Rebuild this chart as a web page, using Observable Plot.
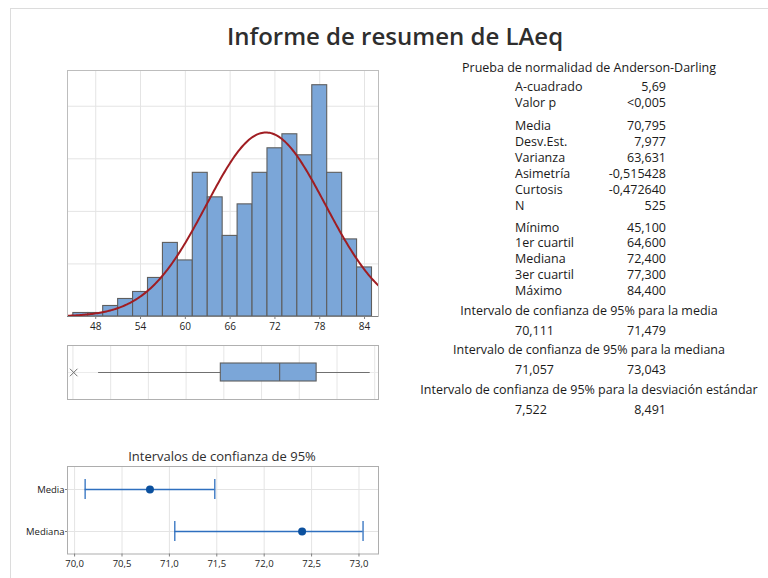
<!DOCTYPE html>
<html><head><meta charset="utf-8">
<script src="https://cdn.jsdelivr.net/npm/d3@7"></script>
<script src="https://cdn.jsdelivr.net/npm/@observablehq/plot@0.6"></script>
<style>
html,body{margin:0;padding:0;background:#fff;}
#page{position:relative;width:768px;height:578px;overflow:hidden;font-family:"Open Sans",sans-serif;color:#1a1a1a;}
.t{position:absolute;white-space:nowrap;line-height:1;}
</style></head><body><div id="page"></div>
<script>
// ---------- data ----------
const reportTitle = "Informe de resumen de LAeq";
const binStart = [45,47,49,51,53,55,57,59,61,63,65,67,69,71,73,75,77,79,81,83];
const binWidth = 2;
const counts = [1,1,3,5,7,11,21,16,41,34,23,32,41,48,52,46,66,41,22,14];
const histTicks = [48,54,60,66,72,78,84];
const histGridY = [15,30,45,60];
const meanVal = 70.795, sdVal = 7.977, nVal = 525;

const boxGrid = [45,50,55,60,65,70,75,80,85];
const boxQ = [64.6, 72.4, 77.3];        // Q1, median, Q3
const whiskers = [48.4, 84.4];          // lower / upper whisker ends
const outliers = [45.1];

const ciNames = ["Media","Mediana"];
const ciLow = [70.111, 71.057];
const ciHigh = [71.479, 73.043];
const ciEst = [70.795, 72.4];
const ciTicks = [70,70.5,71,71.5,72,72.5,73];
const ciTitle = "Intervalos de confianza de 95%";

const adHeader = "Prueba de normalidad de Anderson-Darling";
const adLabels = ["A-cuadrado","Valor p"];
const adValues = ["5,69","<0,005"];
const descLabels = ["Media","Desv.Est.","Varianza","Asimetría","Curtosis","N"];
const descValues = ["70,795","7,977","63,631","-0,515428","-0,472640","525"];
const quantLabels = ["Mínimo","1er cuartil","Mediana","3er cuartil","Máximo"];
const quantValues = ["45,100","64,600","72,400","77,300","84,400"];
const intHeaders = ["Intervalo de confianza de 95% para la media","Intervalo de confianza de 95% para la mediana","Intervalo de confianza de 95% para la desviación estándar"];
const intLow = ["70,111","71,057","7,522"];
const intHigh = ["71,479","73,043","8,491"];

// ---------- layout helpers ----------
const page = document.getElementById("page");
const FONT = '"Open Sans", sans-serif';
function place(el, left, top){ el.style.position="absolute"; el.style.left=left+"px"; el.style.top=top+"px"; page.appendChild(el); }
function text(str, x, yc, align, size, color, weight){
  const d = document.createElement("div");
  d.className = "t"; d.textContent = str;
  d.style.fontSize = size+"px"; d.style.color = color || "#1a1a1a";
  if (weight) d.style.fontWeight = weight;
  d.style.top = yc+"px";
  let tx = "0";
  if (align === "left") d.style.left = x+"px";
  else if (align === "right") d.style.right = (768-x)+"px";
  else { d.style.left = x+"px"; tx = "-50%"; }
  d.style.transform = `translate(${tx},-50%)`;
  page.appendChild(d);
}
// page border
const border = document.createElement("div");
border.style.cssText = "position:absolute;left:10px;top:8px;width:800px;height:700px;border-top:1px solid #dcdcdc;border-left:1px solid #dcdcdc;";
page.appendChild(border);

text(reportTitle, 395, 36, "center", 24, "#2e2e2e", 600);

// ---------- histogram ----------
const histDomain = [44.22, 85.87];
const histData = binStart.map((x0,i)=>({x0, x1:x0+binWidth, count:counts[i]}));
const curvePts = d3.range(0,241).map(i=>{
  const x = histDomain[0] + (histDomain[1]-histDomain[0])*i/240;
  return {x, y: nVal*binWidth*Math.exp(-0.5*((x-meanVal)/sdVal)**2)/(sdVal*Math.sqrt(2*Math.PI))};
});
const hist = Plot.plot({
  width:400, height:280, marginLeft:67, marginRight:22, marginTop:10, marginBottom:24,
  style:{fontFamily:FONT, fontSize:"10px", color:"#333", background:"transparent"},
  x:{domain:histDomain}, y:{domain:[0,70.2], axis:null},
  marks:[
    Plot.gridX(histTicks, {stroke:"#e4e4e4", strokeOpacity:1}),
    Plot.gridY(histGridY, {stroke:"#e4e4e4", strokeOpacity:1}),
    Plot.rectY(histData, {x1:"x0", x2:"x1", y:"count", fill:"#7ba6d8", stroke:"#5e5e5e", strokeWidth:1.1, inset:0}),
    Plot.line(curvePts, {x:"x", y:"y", stroke:"#a01d22", strokeWidth:2, clip:true}),
    Plot.frame({stroke:"#bdbdbd"}),
    Plot.ruleY([0], {stroke:"#808080"}),
    Plot.axisX(histTicks, {tickSize:3, tickPadding:3, stroke:"#808080", fill:"#222", fontSize:10, label:null})
  ]
});
place(hist, 0, 60);

// ---------- boxplot ----------
const boxPlot = Plot.plot({
  width:400, height:64, marginLeft:67, marginRight:22, marginTop:5, marginBottom:5,
  style:{fontFamily:FONT, background:"transparent"},
  x:{domain:[44.28,85.5], axis:null}, y:{domain:[0,3], axis:null},
  marks:[
    Plot.gridX(boxGrid, {stroke:"#e6e6e6", strokeOpacity:1}),
    Plot.ruleY([1.5], {stroke:"#ececec"}),
    Plot.ruleY([1.5], {x1:whiskers[0], x2:whiskers[1], stroke:"#707070", strokeWidth:1.1}),
    Plot.rect([boxQ], {x1:d=>d[0], x2:d=>d[2], y1:1, y2:2, fill:"#7ba6d8", stroke:"#5e5e5e", strokeWidth:1.1}),
    Plot.ruleX([boxQ[1]], {y1:1, y2:2, stroke:"#5e5e5e", strokeWidth:1.1}),
    Plot.dot(outliers, {x:d=>d, y:1.5, symbol:"times", r:3.5, stroke:"#707070", strokeWidth:1}),
    Plot.frame({stroke:"#b0b0b0"})
  ]
});
place(boxPlot, 0, 340);

// ---------- confidence intervals ----------
text(ciTitle, 222, 456, "center", 13, "#2e2e2e", 500);
const ciData = ciNames.map((name,i)=>({name, lo:ciLow[i], hi:ciHigh[i], est:ciEst[i]}));
const ciPlot = Plot.plot({
  width:400, height:116, marginLeft:67, marginRight:22, marginTop:6, marginBottom:22.5,
  style:{fontFamily:FONT, fontSize:"9.5px", color:"#1a1a1a", background:"transparent"},
  x:{domain:[69.925,73.206]},
  y:{domain:ciNames, paddingInner:0.528, paddingOuter:0.293},
  marks:[
    Plot.gridX(ciTicks, {stroke:"#e4e4e4", strokeOpacity:1}),
    Plot.gridY(ciNames, {stroke:"#e4e4e4", strokeOpacity:1}),
    Plot.ruleY(ciData, {y:"name", x1:"lo", x2:"hi", stroke:"#2e6fbf", strokeWidth:1.3}),
    Plot.tickX(ciData, {x:"lo", y:"name", stroke:"#2e6fbf", strokeWidth:1.3}),
    Plot.tickX(ciData, {x:"hi", y:"name", stroke:"#2e6fbf", strokeWidth:1.3}),
    Plot.dot(ciData, {x:"est", y:"name", r:4, fill:"#0b509e"}),
    Plot.frame({stroke:"#adadad"}),
    Plot.axisX(ciTicks, {tickSize:3, tickPadding:3, stroke:"#808080", fill:"#222", tickFormat:d=>d.toFixed(1).replace(".",","), label:null}),
    Plot.axisY({tickSize:2, tickPadding:1, stroke:"#808080", fill:"#1a1a1a", label:null})
  ]
});
place(ciPlot, 0, 460);

// ---------- statistics table ----------
const LX = 515, RX = 666, CX = 589, FS = 12.5;
text(adHeader, CX, 68, "center", FS);
const adY = [87, 103];
adLabels.forEach((l,i)=>{ text(l, LX, adY[i], "left", FS); text(adValues[i], RX, adY[i], "right", FS); });
const descY = [125.5, 141.5, 157.5, 173.5, 189.5, 205.5];
descLabels.forEach((l,i)=>{ text(l, LX, descY[i], "left", FS); text(descValues[i], RX, descY[i], "right", FS); });
const quantY = [227.5, 243.3, 259.1, 274.9, 290.7];
quantLabels.forEach((l,i)=>{ text(l, LX, quantY[i], "left", FS); text(quantValues[i], RX, quantY[i], "right", FS); });
const intHY = [310.5, 350.2, 390];
const intVY = [330.5, 370.2, 410];
intHeaders.forEach((h,i)=>{ text(h, CX, intHY[i], "center", FS); text(intLow[i], LX, intVY[i], "left", FS); text(intHigh[i], RX, intVY[i], "right", FS); });
</script></body></html>
